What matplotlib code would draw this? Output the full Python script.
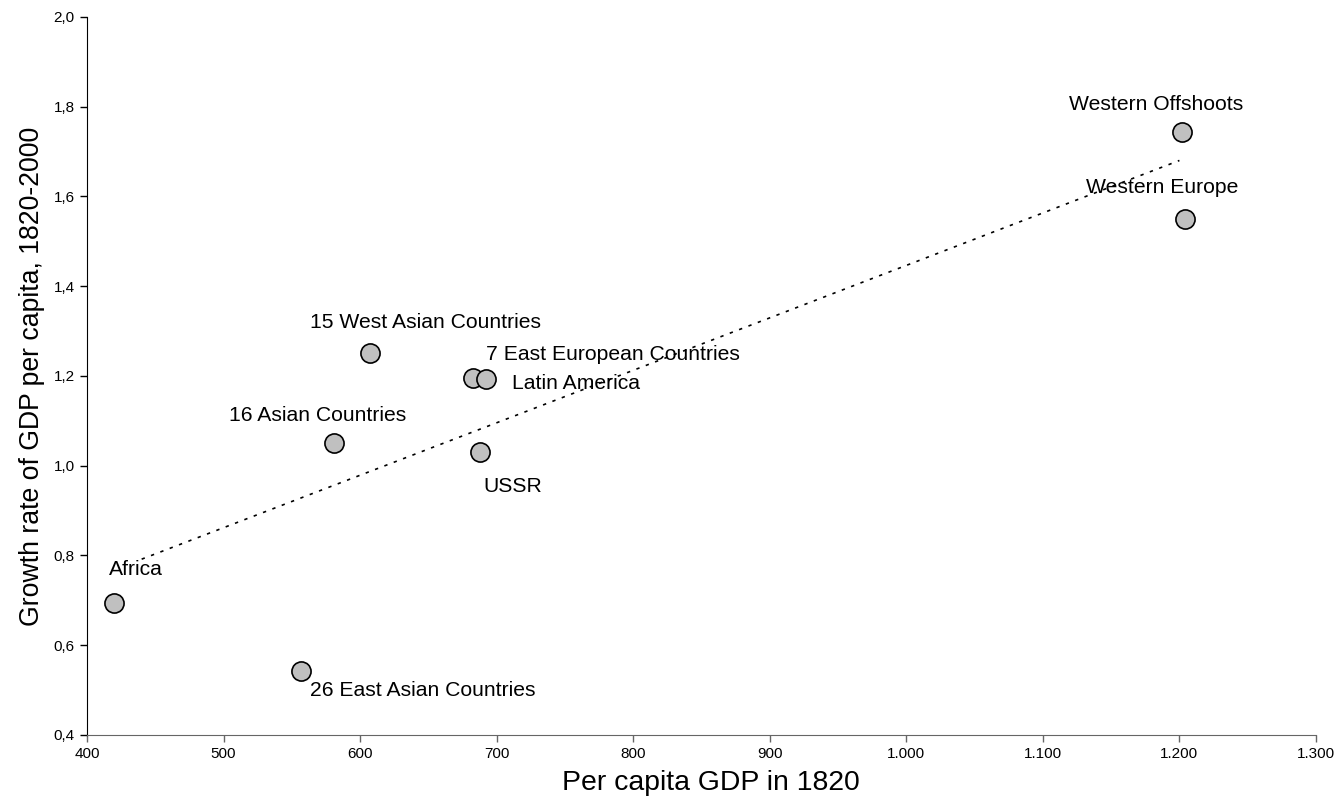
import numpy as np
import matplotlib.pyplot as plt
from matplotlib.ticker import FuncFormatter, MultipleLocator

plt.rcParams['font.family'] = ['Liberation Sans', 'DejaVu Sans']

# regions: per capita GDP 1820 and growth 1820-2000
regions = ['Western Offshoots', 'Western Europe', '15 West Asian Countries',
           '7 East European Countries', 'Latin America', '16 Asian Countries',
           'USSR', 'Africa', '26 East Asian Countries']
gdp_1820 = np.array([1202, 1204, 607, 683, 692, 581, 688, 420, 557])
growth = np.array([1.744, 1.549, 1.252, 1.195, 1.193, 1.050, 1.031, 0.695, 0.543])

# label offsets in points (dx, dy) and horizontal alignment
label_pos = {
    'Western Offshoots': (-19, 20, 'center'),
    'Western Europe': (-16, 23, 'center'),
    '15 West Asian Countries': (-43, 22, 'left'),
    '7 East European Countries': (9, 17, 'left'),
    'Latin America': (19, -3, 'left'),
    '16 Asian Countries': (-76, 20, 'left'),
    'USSR': (2, -25, 'left'),
    'Africa': (-4, 24, 'left'),
    '26 East Asian Countries': (6, -14, 'left'),
}

fig = plt.figure(figsize=(13.39, 8.09), dpi=100)
ax = fig.add_axes([0.065, 0.0915, 0.9178, 0.8875])

# linear trend
slope, icpt = np.polyfit(gdp_1820, growth, 1)
xt = np.array([440, 1200])
ax.plot(xt, slope * xt + icpt, color='black', lw=1.2, linestyle=(0, (2, 4)), zorder=2)

ax.scatter(gdp_1820, growth, s=190, facecolor='#c0c0c0', edgecolor='black',
           linewidth=1.2, zorder=3)

for name, x, y in zip(regions, gdp_1820, growth):
    dx, dy, ha = label_pos[name]
    ax.annotate(name, (x, y), xytext=(dx, dy), textcoords='offset points',
                ha=ha, va='center', fontsize=15.2)

ax.set_xlim(400, 1300)
ax.set_ylim(0.4, 2.0)
ax.xaxis.set_major_locator(MultipleLocator(100))
ax.yaxis.set_major_locator(MultipleLocator(0.2))
ax.xaxis.set_major_formatter(FuncFormatter(lambda v, p: f'{v:,.0f}'.replace(',', '.')))
ax.yaxis.set_major_formatter(FuncFormatter(lambda v, p: f'{v:.1f}'.replace('.', ',')))

ax.spines['top'].set_visible(False)
ax.spines['right'].set_visible(False)
ax.spines['bottom'].set_color('#666666')
ax.tick_params(direction='out', length=5, width=1, labelsize=11, pad=4)
ax.tick_params(axis='x', colors='#666666', labelcolor='black')

ax.set_xlabel('Per capita GDP in 1820', fontsize=20.4, labelpad=6)
ax.xaxis.label.set_x(0.508)
ax.set_ylabel('Growth rate of GDP per capita, 1820-2000', fontsize=19.2, labelpad=6)

fig.savefig('out.png', dpi=100)
